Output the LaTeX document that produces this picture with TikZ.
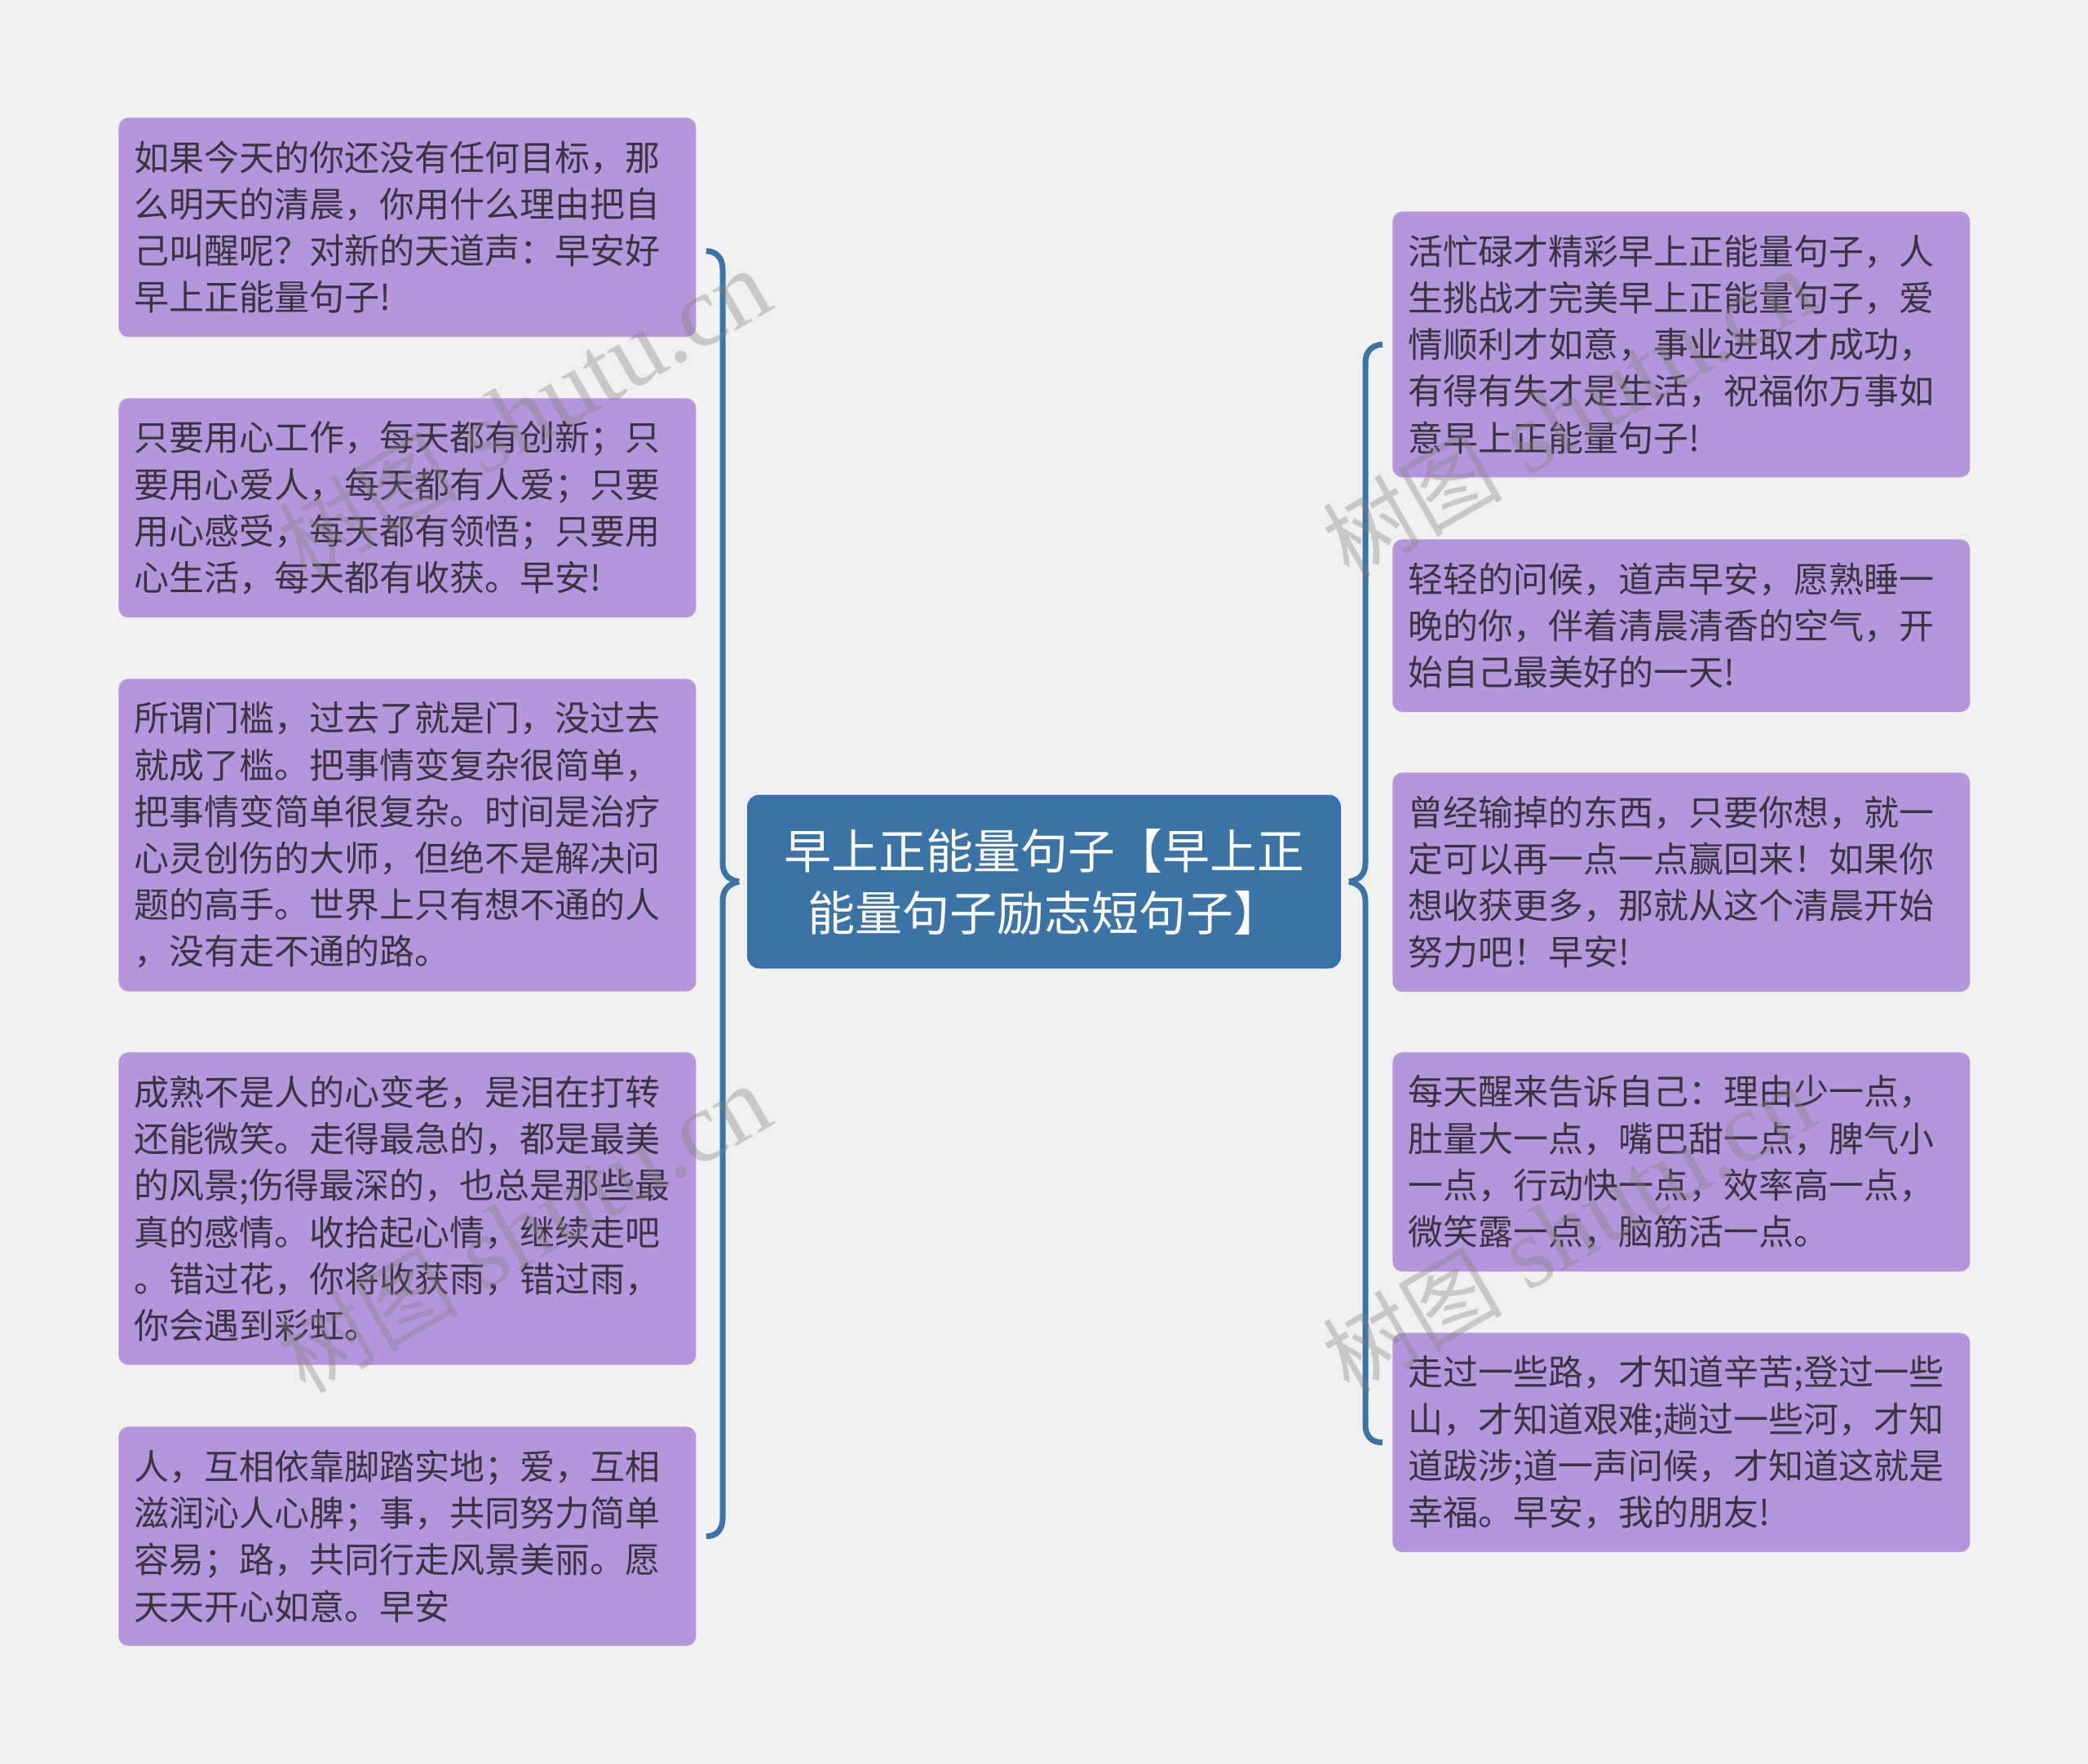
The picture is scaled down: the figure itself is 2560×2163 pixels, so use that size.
\documentclass[tikz,border=0pt]{standalone}
\usepackage{fontspec}
\setmainfont{Noto Sans CJK SC}
\newfontfamily\markfont{Liberation Serif}
\usetikzlibrary{calc}

\definecolor{pagebg}{HTML}{F0F0F1}
\definecolor{leaffill}{HTML}{B696DA}
\definecolor{leaftext}{HTML}{3A3342}
\definecolor{rootfill}{HTML}{3D72A4}
\definecolor{rootline}{HTML}{2F6FCB}

\begin{document}
\begin{tikzpicture}[
    x=0.5pt, y=-0.5pt,
    leaf/.style={rounded corners=6pt, fill=leaffill, text=leaftext, anchor=north west,
        minimum width=354pt, text width=335pt, inner xsep=9.5pt, inner ysep=0pt, align=left,
        font=\fontsize{21.5}{28.6}\selectfont},
    nlines/.style={minimum height={(#1*28.6+20)*1pt}},
    rootbox/.style={rounded corners=7pt, fill=rootfill, draw=rootline, line width=1pt, text=white,
        minimum width=363pt, minimum height=105.5pt, inner sep=0pt, align=center,
        font=\fontsize{29}{38}\selectfont},
    bracket/.style={draw=rootfill, line width=3.5pt},
    watermark/.style={rotate=30, text=gray, opacity=0.35, inner sep=0pt,
        font=\fontsize{55}{60}\selectfont}
]

    % === Background ===
    \fill[pagebg] (0,0) rectangle (2560,2163);
    \useasboundingbox (0,0) rectangle (2560,2163);

    % === Root ===
    \node[rootbox] (root) at (1280,1081) {早上正能量句子【早上正\\能量句子励志短句子】};

    % === Left column ===
    \node[leaf, nlines=4] (left1) at (145,144) {如果今天的你还没有任何目标，那\\么明天的清晨，你用什么理由把自\\己叫醒呢？对新的天道声：早安好\\早上正能量句子!};
    \node[leaf, nlines=4] (left2) at (145,488) {只要用心工作，每天都有创新；只\\要用心爱人，每天都有人爱；只要\\用心感受，每天都有领悟；只要用\\心生活，每天都有收获。早安!};
    \node[leaf, nlines=6] (left3) at (145,832) {所谓门槛，过去了就是门，没过去\\就成了槛。把事情变复杂很简单，\\把事情变简单很复杂。时间是治疗\\心灵创伤的大师，但绝不是解决问\\题的高手。世界上只有想不通的人\\，没有走不通的路。};
    \node[leaf, nlines=6] (left4) at (145,1290) {成熟不是人的心变老，是泪在打转\\还能微笑。走得最急的，都是最美\\的风景;伤得最深的，也总是那些最\\真的感情。收拾起心情，继续走吧\\。错过花，你将收获雨，错过雨，\\你会遇到彩虹。};
    \node[leaf, nlines=4] (left5) at (145,1749) {人，互相依靠脚踏实地；爱，互相\\滋润沁人心脾；事，共同努力简单\\容易；路，共同行走风景美丽。愿\\天天开心如意。早安};

    % === Right column ===
    \node[leaf, nlines=5] (right1) at (1707,259) {活忙碌才精彩早上正能量句子，人\\生挑战才完美早上正能量句子，爱\\情顺利才如意，事业进取才成功，\\有得有失才是生活，祝福你万事如\\意早上正能量句子!};
    \node[leaf, nlines=3] (right2) at (1707,661) {轻轻的问候，道声早安，愿熟睡一\\晚的你，伴着清晨清香的空气，开\\始自己最美好的一天!};
    \node[leaf, nlines=4] (right3) at (1707,947) {曾经输掉的东西，只要你想，就一\\定可以再一点一点赢回来！如果你\\想收获更多，那就从这个清晨开始\\努力吧！早安!};
    \node[leaf, nlines=4] (right4) at (1707,1290) {每天醒来告诉自己：理由少一点，\\肚量大一点，嘴巴甜一点，脾气小\\一点，行动快一点，效率高一点，\\微笑露一点，脑筋活一点。};
    \node[leaf, nlines=4] (right5) at (1707,1634) {走过一些路，才知道辛苦;登过一些\\山，才知道艰难;趟过一些河，才知\\道跋涉;道一声问候，才知道这就是\\幸福。早安，我的朋友!};

    % === Brackets ===
    \coordinate (leftTip) at ($(root.west)+(-10,0)$);
    \coordinate (leftTop) at ($(left1.east)+(12,29)$);
    \coordinate (leftEnd) at ($(left5.east)+(12,0)$);
    \coordinate (rightTip) at ($(root.east)+(10,0)$);
    \coordinate (rightTop) at ($(right1.west)+(-12,0)$);
    \coordinate (rightEnd) at ($(right5.west)+(-12,0)$);

    \draw[bracket] (leftTip) .. controls (895,1079) and (886,1074) .. (886,1058)
        -- (886,330) .. controls (886,316) and (878,308) .. (leftTop);
    \draw[bracket] (leftTip) .. controls (895,1084) and (886,1089) .. (886,1105)
        -- (886,1862) .. controls (886,1876) and (878,1884) .. (leftEnd);
    \draw[bracket] (rightTip) .. controls (1665,1079) and (1674,1074) .. (1674,1058)
        -- (1674,445) .. controls (1674,431) and (1682,423) .. (rightTop);
    \draw[bracket] (rightTip) .. controls (1665,1084) and (1674,1089) .. (1674,1105)
        -- (1674,1747) .. controls (1674,1761) and (1682,1769) .. (rightEnd);

    % === Watermarks ===
    \node[watermark] (mark1) at (643,507) {树图\markfont{\fontsize{62}{60}\selectfont{} shutu.cn}};
    \node[watermark] (mark2) at (1923,507) {树图\markfont{\fontsize{62}{60}\selectfont{} shutu.cn}};
    \node[watermark] (mark3) at (643,1507) {树图\markfont{\fontsize{62}{60}\selectfont{} shutu.cn}};
    \node[watermark] (mark4) at (1923,1507) {树图\markfont{\fontsize{62}{60}\selectfont{} shutu.cn}};

\end{tikzpicture}
\end{document}
